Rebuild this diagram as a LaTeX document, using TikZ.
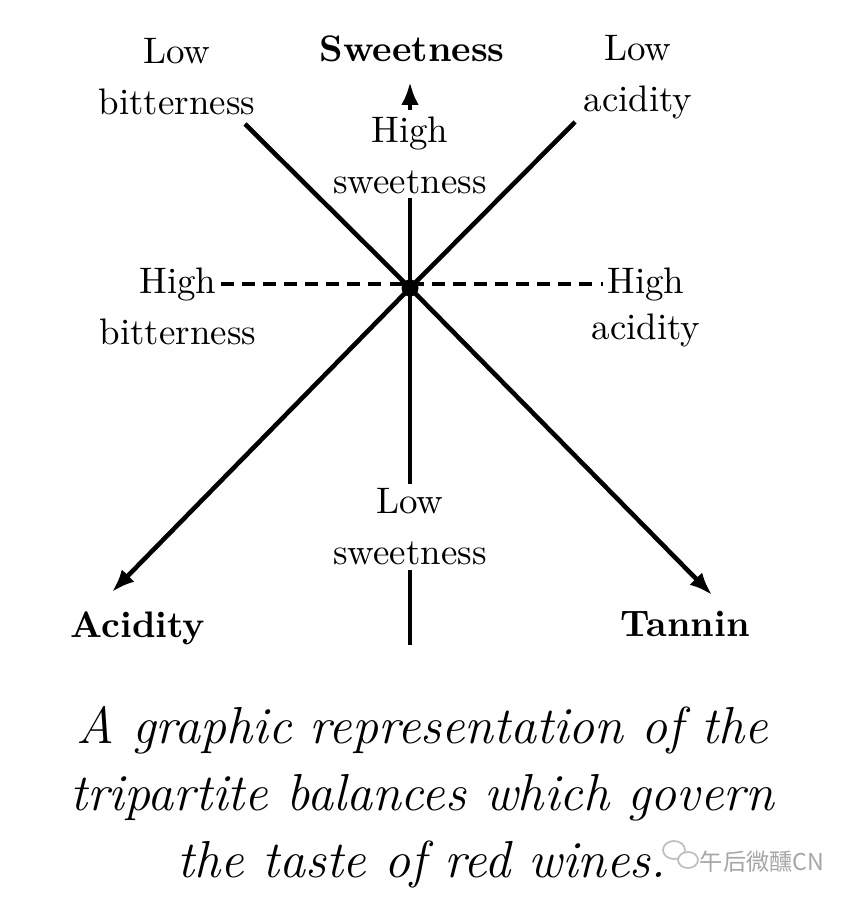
\documentclass[tikz,border=0pt]{standalone}
\usepackage{fontspec}
\newfontfamily\cjkfont{Noto Sans CJK SC}
\usetikzlibrary{arrows.meta,positioning}

\begin{document}
\begin{tikzpicture}[>={Latex[length=6.5pt,width=5pt]},x=.01cm,y=-.01cm,
  eje/.style={line width=1.3pt,black},
  rotulo/.style={align=center,inner sep=1pt,font=\fontsize{10.5}{14.5}\selectfont},
  negrita/.style={inner sep=1pt,font=\fontsize{10.5}{14.5}\selectfont\bfseries}]
  \useasboundingbox (0,0) rectangle (841,904);

  % Ejes primero, el punto central encima.
  \coordinate (centro) at (410,288);
  \coordinate (bitIzq) at (245,124);
  \coordinate (acDer) at (575,122);
  \coordinate (acidFin) at (112,592);
  \coordinate (tanFin) at (712,595);
  \coordinate (dulAba) at (410,645);
  \coordinate (flechaIni) at (410,110);
  \coordinate (flechaFin) at (410,82);

  \node[rotulo] (lowBit) at (177,77) {Low\\bitterness};
  \node[negrita] (sweet) at (412,49) {Sweetness};
  \node[rotulo] (lowAc) at (638,77) {Low\\acidity};
  \node[rotulo] (highSw) at (410,155) {High\\sweetness};
  \node[rotulo] (highBit) at (178,284) {High};
  \node[rotulo] (bit) at (178,332) {bitterness};
  \node[rotulo] (highAc) at (646,284) {High};
  \node[rotulo] (ac) at (646,330) {acidity};
  \node[rotulo] (lowSw) at (410,527) {Low\\sweetness};
  \node[negrita] (acid) at (138,628) {Acidity};
  \node[negrita] (tan) at (685,624) {Tannin};

  \draw[eje] (bitIzq) -- (centro);
  \draw[eje,->] (centro) -- (tanFin);
  \draw[eje] (acDer) -- (centro);
  \draw[eje,->] (centro) -- (acidFin);
  \draw[eje] (highSw.south) -- (lowSw.north);
  \draw[eje] (lowSw.south) -- (dulAba);
  \draw[eje,->] (flechaIni) -- (flechaFin);
  \draw[line width=.9pt,dash pattern=on 3.7pt off 2.3pt] (highBit.east) -- (highAc.west);
  \fill (centro) circle (.085cm);

  \node[inner sep=0pt,align=center,font=\fontsize{14.8}{19}\selectfont\itshape]
        (pie) at (422,797) {A graphic representation of the\\
        tripartite balances which govern\\the taste of red wines.};

  \draw[gray!50,line width=.5pt] (674,850) ellipse (.11cm and .09cm);
  \draw[gray!50,line width=.5pt,fill=white] (688,860) ellipse (.1cm and .08cm);
  \node[gray!70,inner sep=0pt,font=\cjkfont\fontsize{6.6}{8}\selectfont] (marca) at (762,862) {午后微醺CN};
\end{tikzpicture}
\end{document}
